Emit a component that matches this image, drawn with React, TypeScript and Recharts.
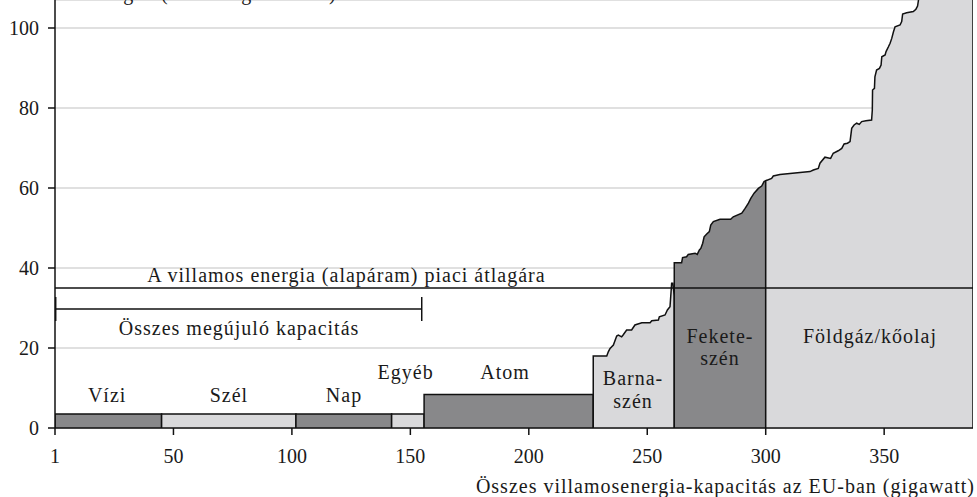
import { ComposedChart, Area, XAxis, YAxis, CartesianGrid, ReferenceLine, ReferenceDot } from 'recharts';

const DARK = '#88888a';
const LIGHT = '#d9d9db';
const FONT = 'Liberation Serif, serif';

// fixed-price blocks (renewables + nuclear), GW from / to, €/MWh
const blockKeys = ['hydro', 'wind', 'solar', 'other', 'nuclear'];
const blockStart = [0, 45, 101.7, 142.1, 155.8];
const blockEnd = [45, 101.7, 142.1, 155.8, 227.2];
const blockPrice = [3.5, 3.5, 3.5, 3.5, 8.4];
const blockFill = [DARK, LIGHT, DARK, LIGHT, DARK];

// merit-order curves: [GW, €/MWh]
const ligniteCurve = [
  [227.2, 18], [232.9, 18], [233.6, 19.1], [234.3, 19.9], [235.7, 20.75], [237.1, 23], [237.8, 23.25],
  [239.2, 22.8], [239.8, 23.25], [241.3, 24.5], [243.4, 24.5], [244.8, 25.75], [247.7, 26.3], [251.2, 26.3],
  [251.9, 26.8], [254.7, 27], [255.1, 27.8], [257.5, 28.25], [258.5, 29.5], [259.6, 30.3], [259.9, 32.8],
  [260.3, 36.2], [260.8, 36.2], [261.4, 33],
];
const coalCurve = [
  [261.4, 41.3], [264.5, 41.3], [264.9, 42.6], [266.6, 42.8], [267.3, 43.4], [270.2, 43.7], [271.1, 43.4],
  [272, 44.5], [272.6, 44.9], [273.4, 46.2], [274, 47.8], [275.1, 48.5], [276.2, 49.1], [276.8, 50.75],
  [277.9, 51.6], [280.7, 52.2], [285.2, 52.2], [286.3, 52.8], [289.9, 53.7], [291.3, 54.9], [292.7, 56.2],
  [293.7, 57.4], [295.1, 58.7], [296.9, 59.9], [298.3, 60.5], [299.3, 61.6], [300, 61.8],
];
const gasCurve = [
  [300, 61.8], [302.5, 62.4], [303.2, 63], [306, 63.4], [318.7, 64.1], [320.1, 64.5], [322.2, 64.9],
  [322.9, 66.2], [325, 67.7], [327.4, 67.4], [328.5, 68.7], [330.6, 69.3], [332.1, 69.9], [333.1, 71],
  [334.5, 71.2], [335.6, 71.6], [336.3, 74.9], [337.3, 75.75], [338.4, 76.2], [339.5, 75.9], [340.5, 76.6],
  [342.3, 76.8], [344.7, 77], [345, 79.5], [345.1, 84.5], [345.9, 84.9], [346.1, 87.8], [346.8, 89.5],
  [348, 89.9], [348.7, 90.75], [349, 92.8], [350.4, 93.25], [350.8, 94.1], [351.8, 95.3], [352.5, 96.2],
  [353.2, 97.4], [353.9, 99], [354.6, 100.3], [356.7, 100.75], [357.4, 101.6], [357.8, 103.5], [359.5, 103.8],
  [362.3, 104.1], [363.4, 104.7], [364.1, 105.5], [364.5, 107], [365.5, 110], [372, 113], [380, 118], [387.5, 124],
];

const xTicks = [0, 50, 100, 150, 200, 250, 300, 350];
const yTicks = [0, 20, 40, 60, 80, 100];
const avgPrice = 35;
const renewableSpan = [0.3, 154.8];
const bracketLevel = 29.75;

const labels = [
  { text: 'Vízi', x: 22, y: 8.25 },
  { text: 'Szél', x: 73.4, y: 8.25 },
  { text: 'Nap', x: 122, y: 8.25 },
  { text: 'Egyéb', x: 148, y: 14 },
  { text: 'Atom', x: 190, y: 14 },
  { text: 'Barna-', x: 244, y: 12.5 },
  { text: 'szén', x: 244, y: 6.75 },
  { text: 'Fekete-', x: 280.7, y: 23 },
  { text: 'szén', x: 280.7, y: 17.5 },
  { text: 'Földgáz/kőolaj', x: 344, y: 23 },
  { text: 'A villamos energia (alapáram) piaci átlagára', x: 123, y: 38.3 },
  { text: 'Összes megújuló kapacitás', x: 77.7, y: 25 },
];

const series: { key: string; fill: string }[] = [];
const rows: Record<string, number | null>[] = [];
const addSegment = (key: string, fill: string, pts: number[][]) => {
  series.push({ key, fill });
  const closed = [[pts[0][0], 0], ...pts, [pts[pts.length - 1][0], 0]];
  closed.forEach(([x, y]) => rows.push({ x, [key]: y }));
};
blockKeys.forEach((k, i) =>
  addSegment(k, blockFill[i], [[blockStart[i], blockPrice[i]], [blockEnd[i], blockPrice[i]]])
);
addSegment('lignite', LIGHT, ligniteCurve);
addSegment('coal', DARK, coalCurve);
addSegment('gas', LIGHT, gasCurve);
const allKeys = series.map((s) => s.key);
rows.forEach((r) => allKeys.forEach((k) => { if (r[k] === undefined) r[k] = null; }));

const textStyle = { fontFamily: FONT, fontSize: 20, fill: '#1a1a1a', letterSpacing: 1 };

export default function App() {
  return (
    <div style={{ position: 'absolute', left: 0, top: 0 }}>
      <ComposedChart width={977} height={497} data={rows} margin={{ top: 0, right: 4, bottom: 0, left: 0 }}>
        <CartesianGrid vertical={false} stroke="#d6d6d6" strokeWidth={1.5} />
        <XAxis
          type="number"
          dataKey="x"
          domain={[0, 387.5]}
          ticks={xTicks}
          allowDataOverflow
          tickFormatter={(v) => (v === 0 ? '1' : String(v))}
          height={69}
          tickSize={7}
          tickMargin={14}
          axisLine={{ stroke: '#111', strokeWidth: 1.5 }}
          tickLine={{ stroke: '#111', strokeWidth: 1.5 }}
          tick={{ fontFamily: FONT, fontSize: 20, fill: '#1a1a1a' }}
          label={{
            content: ({ viewBox }: any) => (
              <text x={viewBox.x + viewBox.width + 2} y={viewBox.y + 65} textAnchor="end" style={textStyle}>
                Összes villamosenergia-kapacitás az EU-ban (gigawatt)
              </text>
            ),
          }}
        />
        <YAxis
          type="number"
          domain={[0, 107]}
          ticks={yTicks}
          allowDataOverflow
          width={55}
          tickSize={7}
          tickMargin={9}
          axisLine={{ stroke: '#111', strokeWidth: 1.5 }}
          tickLine={{ stroke: '#111', strokeWidth: 1.5 }}
          tick={{ fontFamily: FONT, fontSize: 20, fill: '#1a1a1a' }}
          label={{
            content: ({ viewBox }: any) => (
              <text x={viewBox.x + 20} y={viewBox.y} textAnchor="start" style={textStyle}>
                Határköltségek (euró/megawattóra)
              </text>
            ),
          }}
        />
        {series.map((s) => (
          <Area
            key={s.key}
            dataKey={s.key}
            type="linear"
            fill={s.fill}
            fillOpacity={1}
            stroke="#111"
            strokeWidth={1.5}
            dot={false}
            activeDot={false}
            isAnimationActive={false}
          />
        ))}
        <ReferenceLine y={avgPrice} stroke="#111" strokeWidth={1.5} />
        <ReferenceLine
          segment={[{ x: renewableSpan[0], y: bracketLevel }, { x: renewableSpan[1], y: bracketLevel }]}
          stroke="#111"
          strokeWidth={1.5}
        />
        {renewableSpan.map((x) => (
          <ReferenceLine
            key={x}
            segment={[{ x, y: bracketLevel - 3 }, { x, y: bracketLevel + 3 }]}
            stroke="#111"
            strokeWidth={1.5}
          />
        ))}
        {labels.map((l, i) => (
          <ReferenceDot
            key={i}
            x={l.x}
            y={l.y}
            r={0}
            shape={(p: any) => (
              <text x={p.cx} y={p.cy + 7} textAnchor="middle" style={textStyle}>
                {l.text}
              </text>
            )}
          />
        ))}
      </ComposedChart>
    </div>
  );
}
